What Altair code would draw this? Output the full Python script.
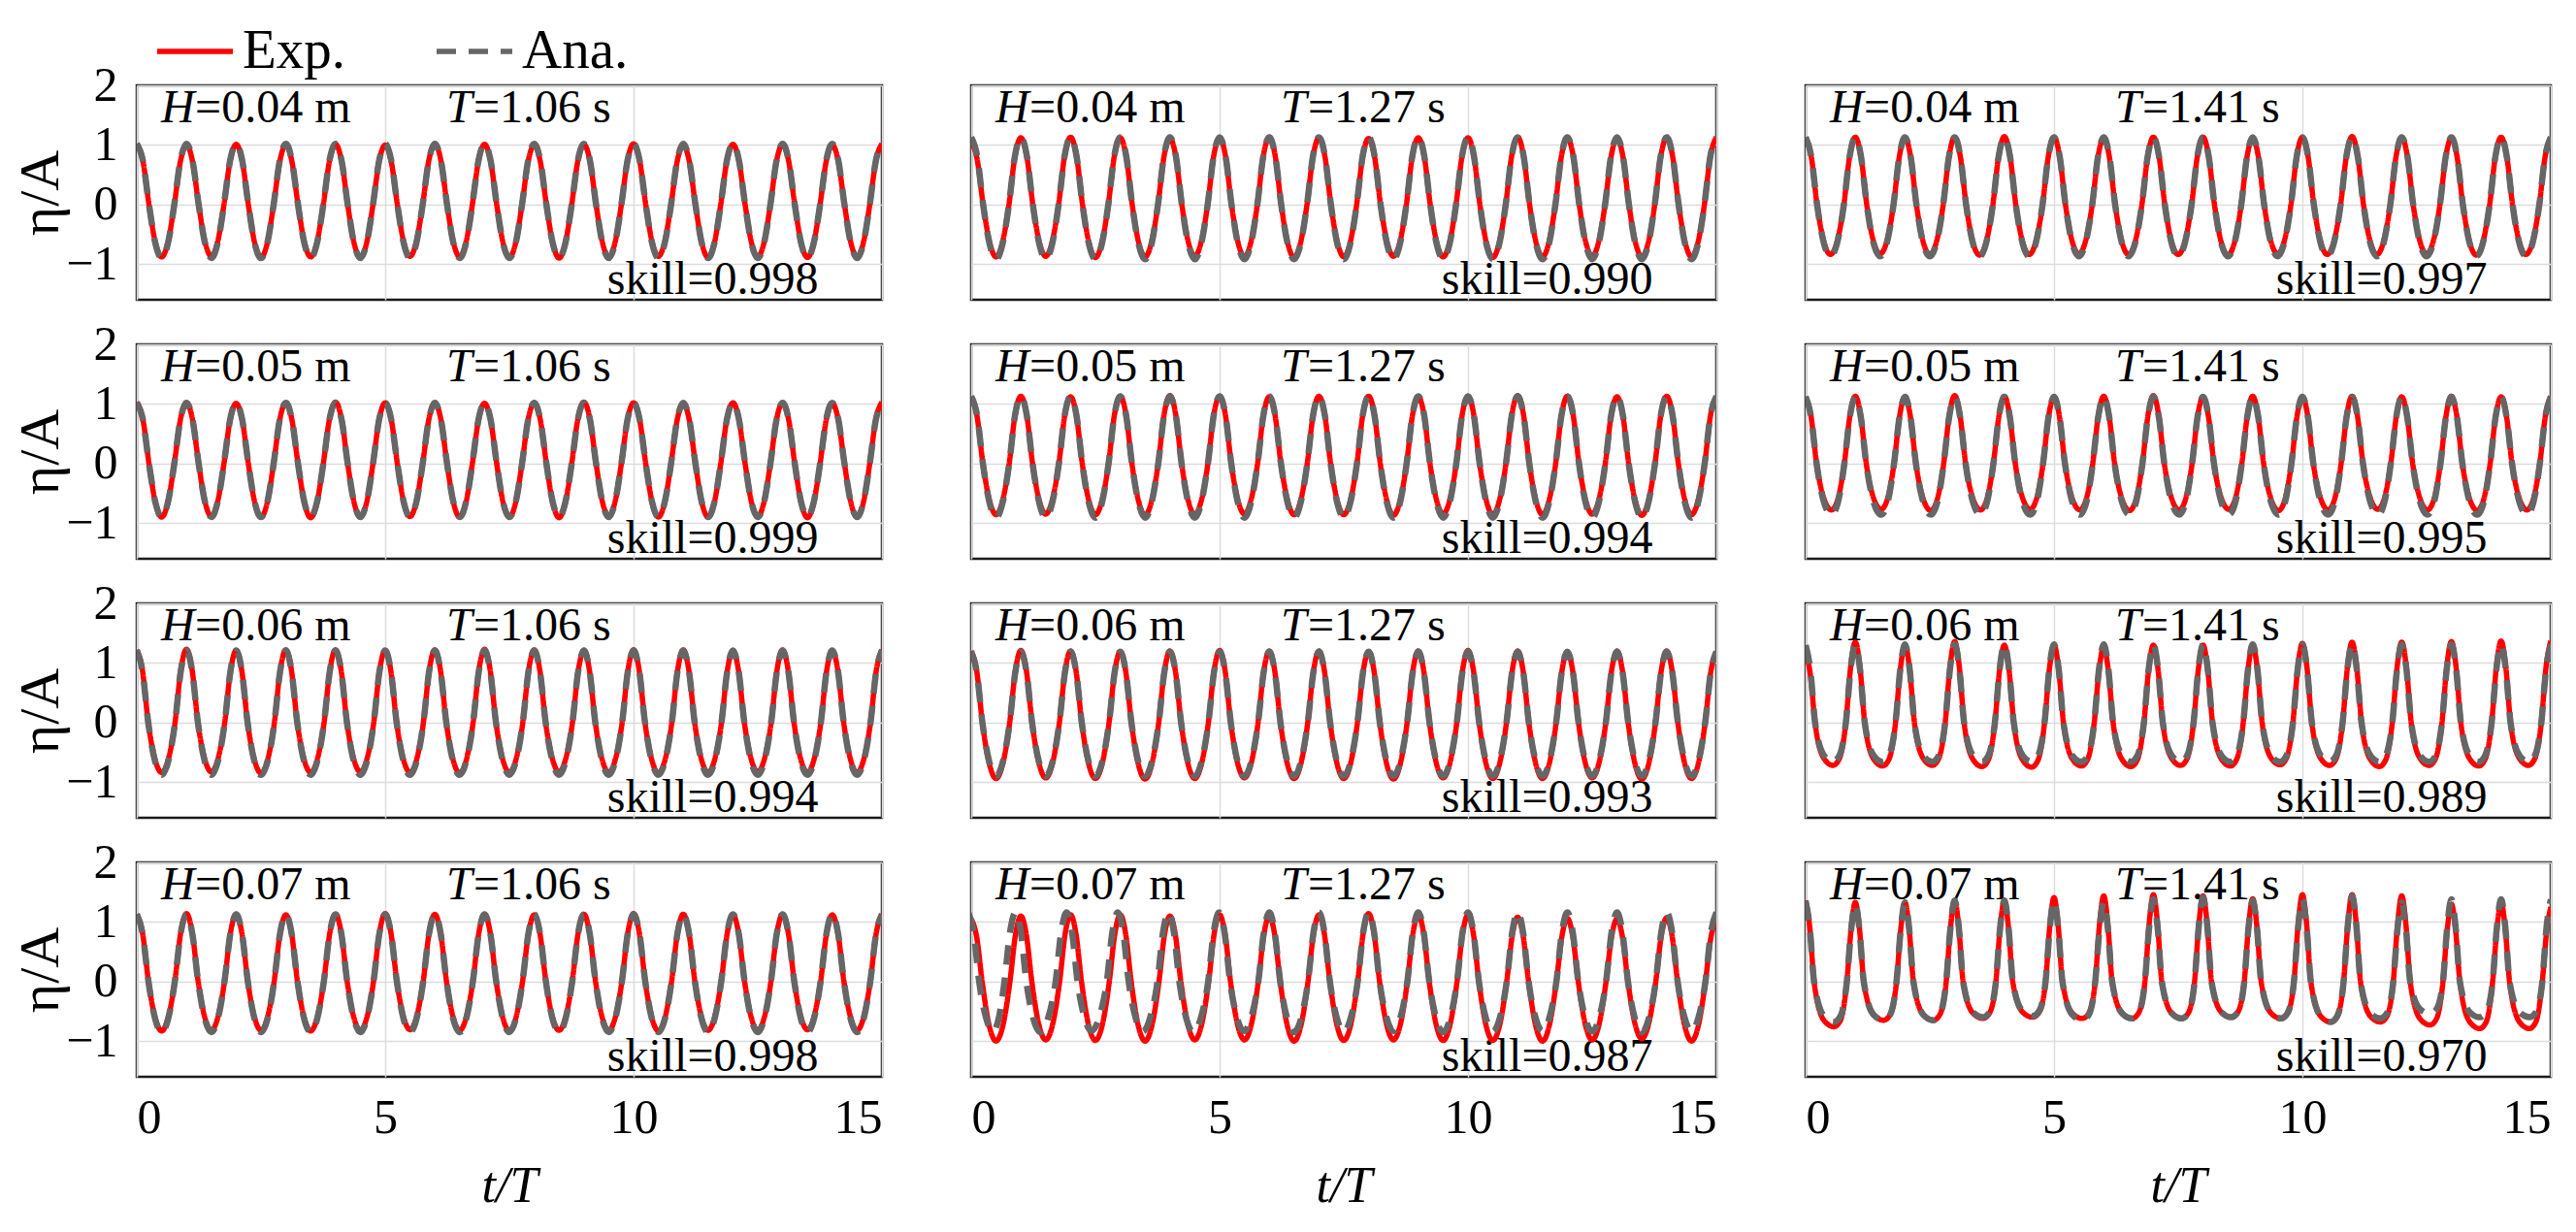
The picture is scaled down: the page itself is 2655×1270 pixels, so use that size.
import altair as alt
import pandas as pd

# ---------------- panel labels ----------------
H_LABELS = ["0.04", "0.05", "0.06", "0.07"]          # rows
T_LABELS = ["1.06", "1.27", "1.41"]                  # columns
SKILL = [
    ["0.998", "0.990", "0.997"],
    ["0.999", "0.994", "0.995"],
    ["0.994", "0.993", "0.989"],
    ["0.998", "0.987", "0.970"],
]
X_TICKS = [0, 5, 10, 15]
Y_TICKS = [-1, 0, 1, 2]

# ---------------- wave profile readings per panel [row][col] ----------------
# fraction of a period from crest to zero crossing
ZERO_OFFSET = [[0.245, 0.24, 0.23], [0.245, 0.235, 0.22], [0.23, 0.225, 0.19], [0.235, 0.22, 0.17]]
# fraction of a period from crest to trough
TROUGH_POS = [[0.5, 0.5, 0.5], [0.5, 0.5, 0.52], [0.5, 0.5, 0.55], [0.5, 0.5, 0.57]]
# relative level half way between crest and zero crossing
CREST_SIDE = [[0.72, 0.72, 0.71], [0.72, 0.72, 0.70], [0.71, 0.71, 0.68], [0.71, 0.71, 0.66]]
# relative level half way between zero crossing and trough
TROUGH_SIDE = [[0.72, 0.72, 0.74], [0.72, 0.72, 0.76], [0.73, 0.73, 0.84], [0.73, 0.73, 0.86]]

# ---------------- crest (t = 0..15) and trough (t = k + 1/2) levels ----------------
EXP_CREST_11 = [1.02, 1.00, 1.01, 1.00, 1.01, 1.00, 1.02, 1.01, 1.00, 1.01, 1.02, 1.00, 1.01, 1.01, 1.00, 1.02]
EXP_TROUGH_11 = [-0.88, -0.87, -0.89, -0.88, -0.89, -0.87, -0.88, -0.89, -0.90, -0.88, -0.87, -0.89, -0.88, -0.89, -0.88]
ANA_CREST_11 = [1.02, 1.02, 1.02, 1.02, 1.02, 1.02, 1.02, 1.02, 1.02, 1.02, 1.02, 1.02, 1.02, 1.02, 1.02, 1.02]
ANA_TROUGH_11 = [-0.90, -0.90, -0.90, -0.90, -0.90, -0.90, -0.90, -0.90, -0.90, -0.90, -0.90, -0.90, -0.90, -0.90, -0.90]

EXP_CREST_21 = [1.03, 1.02, 1.01, 1.02, 1.03, 1.02, 1.02, 1.01, 1.02, 1.03, 1.02, 1.01, 1.02, 1.02, 1.01, 1.03]
EXP_TROUGH_21 = [-0.90, -0.89, -0.90, -0.91, -0.90, -0.89, -0.90, -0.90, -0.91, -0.89, -0.90, -0.90, -0.89, -0.91, -0.90]
ANA_CREST_21 = [1.02, 1.02, 1.02, 1.02, 1.02, 1.02, 1.02, 1.02, 1.02, 1.02, 1.02, 1.02, 1.02, 1.02, 1.02, 1.02]
ANA_TROUGH_21 = [-0.90, -0.90, -0.90, -0.90, -0.90, -0.90, -0.90, -0.90, -0.90, -0.90, -0.90, -0.90, -0.90, -0.90, -0.90]

EXP_CREST_31 = [1.22, 1.23, 1.21, 1.22, 1.22, 1.21, 1.22, 1.23, 1.22, 1.21, 1.22, 1.22, 1.21, 1.22, 1.21, 1.22]
EXP_TROUGH_31 = [-0.84, -0.83, -0.85, -0.84, -0.83, -0.84, -0.85, -0.84, -0.83, -0.84, -0.85, -0.84, -0.83, -0.84, -0.84]
ANA_CREST_31 = [1.21, 1.21, 1.21, 1.21, 1.21, 1.21, 1.21, 1.21, 1.21, 1.21, 1.21, 1.21, 1.21, 1.21, 1.21, 1.21]
ANA_TROUGH_31 = [-0.88, -0.88, -0.88, -0.88, -0.88, -0.88, -0.88, -0.88, -0.88, -0.88, -0.88, -0.88, -0.88, -0.88, -0.88]

EXP_CREST_41 = [1.13, 1.14, 1.13, 1.12, 1.13, 1.14, 1.13, 1.13, 1.12, 1.13, 1.14, 1.13, 1.12, 1.13, 1.12, 1.13]
EXP_TROUGH_41 = [-0.83, -0.82, -0.82, -0.83, -0.82, -0.81, -0.82, -0.83, -0.82, -0.82, -0.83, -0.82, -0.82, -0.81, -0.82]
ANA_CREST_41 = [1.13, 1.13, 1.13, 1.13, 1.13, 1.13, 1.13, 1.13, 1.13, 1.13, 1.13, 1.13, 1.13, 1.13, 1.13, 1.13]
ANA_TROUGH_41 = [-0.85, -0.85, -0.85, -0.85, -0.85, -0.85, -0.85, -0.85, -0.85, -0.85, -0.85, -0.85, -0.85, -0.85, -0.85]

EXP_CREST_12 = [1.05, 1.12, 1.13, 1.12, 1.11, 1.12, 1.13, 1.12, 1.11, 1.12, 1.12, 1.13, 1.12, 1.11, 1.12, 1.13]
EXP_TROUGH_12 = [-0.88, -0.87, -0.89, -0.88, -0.87, -0.88, -0.89, -0.88, -0.87, -0.88, -0.89, -0.88, -0.87, -0.88, -0.88]
ANA_CREST_12 = [1.13, 1.13, 1.13, 1.13, 1.13, 1.13, 1.13, 1.13, 1.13, 1.13, 1.13, 1.13, 1.13, 1.13, 1.13, 1.13]
ANA_TROUGH_12 = [-0.92, -0.92, -0.92, -0.92, -0.92, -0.92, -0.92, -0.92, -0.92, -0.92, -0.92, -0.92, -0.92, -0.92, -0.92]

EXP_CREST_22 = [1.10, 1.13, 1.12, 1.13, 1.14, 1.13, 1.12, 1.13, 1.13, 1.12, 1.13, 1.14, 1.13, 1.12, 1.13, 1.12]
EXP_TROUGH_22 = [-0.86, -0.85, -0.86, -0.87, -0.86, -0.85, -0.86, -0.86, -0.87, -0.85, -0.86, -0.86, -0.85, -0.87, -0.86]
ANA_CREST_22 = [1.13, 1.13, 1.13, 1.13, 1.13, 1.13, 1.13, 1.13, 1.13, 1.13, 1.13, 1.13, 1.13, 1.13, 1.13, 1.13]
ANA_TROUGH_22 = [-0.91, -0.91, -0.91, -0.91, -0.91, -0.91, -0.91, -0.91, -0.91, -0.91, -0.91, -0.91, -0.91, -0.91, -0.91]

EXP_CREST_32 = [1.20, 1.21, 1.20, 1.19, 1.20, 1.21, 1.20, 1.20, 1.19, 1.20, 1.21, 1.20, 1.19, 1.20, 1.20, 1.19]
EXP_TROUGH_32 = [-0.94, -0.93, -0.94, -0.95, -0.94, -0.93, -0.94, -0.94, -0.95, -0.93, -0.94, -0.94, -0.93, -0.95, -0.94]
ANA_CREST_32 = [1.19, 1.19, 1.19, 1.19, 1.19, 1.19, 1.19, 1.19, 1.19, 1.19, 1.19, 1.19, 1.19, 1.19, 1.19, 1.19]
ANA_TROUGH_32 = [-0.90, -0.90, -0.90, -0.90, -0.90, -0.90, -0.90, -0.90, -0.90, -0.90, -0.90, -0.90, -0.90, -0.90, -0.90]

EXP_CREST_42 = [1.05, 1.10, 1.12, 1.12, 1.10, 1.12, 1.10, 1.12, 1.14, 1.12, 1.12, 1.08, 1.06, 1.05, 1.07, 1.04]
EXP_TROUGH_42 = [-1.00, -0.98, -0.99, -1.00, -0.98, -0.98, -1.00, -0.99, -0.98, -0.99, -0.99, -1.00, -0.98, -0.96, -1.00]
ANA_CREST_42 = [1.16, 1.16, 1.16, 1.16, 1.16, 1.16, 1.16, 1.16, 1.16, 1.16, 1.16, 1.16, 1.16, 1.16, 1.16, 1.16]
ANA_TROUGH_42 = [-0.84, -0.85, -0.83, -0.84, -0.85, -0.83, -0.85, -0.84, -0.83, -0.85, -0.84, -0.83, -0.84, -0.85, -0.83]
ANA_SHIFT_42 = [-0.06, -0.11, -0.08, -0.05, -0.03, -0.01, 0.0, 0.0, 0.0, 0.0, 0.0, 0.0, 0.0, 0.0, 0.0, 0.0]

EXP_CREST_13 = [1.12, 1.13, 1.12, 1.13, 1.14, 1.13, 1.12, 1.13, 1.13, 1.12, 1.13, 1.14, 1.13, 1.12, 1.13, 1.12]
EXP_TROUGH_13 = [-0.84, -0.83, -0.84, -0.85, -0.84, -0.83, -0.84, -0.84, -0.85, -0.83, -0.84, -0.84, -0.83, -0.85, -0.84]
ANA_CREST_13 = [1.13, 1.13, 1.13, 1.13, 1.13, 1.13, 1.13, 1.13, 1.13, 1.13, 1.13, 1.13, 1.13, 1.13, 1.13, 1.13]
ANA_TROUGH_13 = [-0.87, -0.87, -0.87, -0.87, -0.87, -0.87, -0.87, -0.87, -0.87, -0.87, -0.87, -0.87, -0.87, -0.87, -0.87]

EXP_CREST_23 = [1.12, 1.13, 1.12, 1.14, 1.13, 1.12, 1.13, 1.14, 1.12, 1.13, 1.12, 1.13, 1.12, 1.13, 1.12, 1.13]
EXP_TROUGH_23 = [-0.78, -0.77, -0.79, -0.78, -0.77, -0.78, -0.79, -0.78, -0.77, -0.79, -0.78, -0.77, -0.78, -0.79, -0.78]
ANA_CREST_23 = [1.12, 1.12, 1.12, 1.12, 1.12, 1.12, 1.12, 1.12, 1.12, 1.12, 1.12, 1.12, 1.12, 1.12, 1.12, 1.12]
ANA_TROUGH_23 = [-0.86, -0.86, -0.86, -0.86, -0.86, -0.86, -0.86, -0.86, -0.86, -0.86, -0.86, -0.86, -0.86, -0.86, -0.86]

EXP_CREST_33 = [1.18, 1.35, 1.30, 1.36, 1.30, 1.30, 1.27, 1.30, 1.30, 1.30, 1.33, 1.35, 1.35, 1.36, 1.37, 1.37]
EXP_TROUGH_33 = [-0.72, -0.73, -0.72, -0.74, -0.75, -0.73, -0.74, -0.72, -0.73, -0.71, -0.72, -0.74, -0.72, -0.73, -0.72]
ANA_CREST_33 = [1.30, 1.31, 1.31, 1.31, 1.31, 1.31, 1.31, 1.31, 1.31, 1.31, 1.31, 1.31, 1.31, 1.31, 1.31, 1.31]
ANA_TROUGH_33 = [-0.66, -0.66, -0.66, -0.66, -0.66, -0.66, -0.66, -0.66, -0.66, -0.66, -0.66, -0.66, -0.66, -0.66, -0.66]

EXP_CREST_43 = [1.36, 1.33, 1.33, 1.36, 1.36, 1.41, 1.44, 1.46, 1.44, 1.39, 1.46, 1.46, 1.44, 1.30, 1.33, 1.25]
EXP_TROUGH_43 = [-0.76, -0.65, -0.65, -0.62, -0.60, -0.62, -0.62, -0.62, -0.60, -0.62, -0.68, -0.68, -0.73, -0.79, -0.79]
ANA_CREST_43 = [1.35, 1.30, 1.33, 1.36, 1.36, 1.36, 1.33, 1.38, 1.41, 1.36, 1.38, 1.44, 1.33, 1.38, 1.38, 1.38]
ANA_TROUGH_43 = [-0.68, -0.65, -0.65, -0.60, -0.58, -0.65, -0.62, -0.62, -0.60, -0.62, -0.68, -0.62, -0.54, -0.60, -0.60]

SERIES = {
    (0, 0): (EXP_CREST_11, EXP_TROUGH_11, ANA_CREST_11, ANA_TROUGH_11, None),
    (1, 0): (EXP_CREST_21, EXP_TROUGH_21, ANA_CREST_21, ANA_TROUGH_21, None),
    (2, 0): (EXP_CREST_31, EXP_TROUGH_31, ANA_CREST_31, ANA_TROUGH_31, None),
    (3, 0): (EXP_CREST_41, EXP_TROUGH_41, ANA_CREST_41, ANA_TROUGH_41, None),
    (0, 1): (EXP_CREST_12, EXP_TROUGH_12, ANA_CREST_12, ANA_TROUGH_12, None),
    (1, 1): (EXP_CREST_22, EXP_TROUGH_22, ANA_CREST_22, ANA_TROUGH_22, None),
    (2, 1): (EXP_CREST_32, EXP_TROUGH_32, ANA_CREST_32, ANA_TROUGH_32, None),
    (3, 1): (EXP_CREST_42, EXP_TROUGH_42, ANA_CREST_42, ANA_TROUGH_42, ANA_SHIFT_42),
    (0, 2): (EXP_CREST_13, EXP_TROUGH_13, ANA_CREST_13, ANA_TROUGH_13, None),
    (1, 2): (EXP_CREST_23, EXP_TROUGH_23, ANA_CREST_23, ANA_TROUGH_23, None),
    (2, 2): (EXP_CREST_33, EXP_TROUGH_33, ANA_CREST_33, ANA_TROUGH_33, None),
    (3, 2): (EXP_CREST_43, EXP_TROUGH_43, ANA_CREST_43, ANA_TROUGH_43, None),
}

FONT = "Liberation Serif"
RED = "#ff0000"
GREY = "#666666"
PW, PH = 768, 221


def wave_points(crests, troughs, w, p, f1, f2, shifts=None):
    n = len(troughs)
    sh = shifts if shifts is not None else [0.0] * (n + 1)
    pts = []
    for k in range(n + 1):
        b = k + sh[k]
        pts.append((b, crests[k]))
        if k < n:
            nb = k + 1 + sh[k + 1]
            tr = troughs[k]
            pts.append((b + w / 2, crests[k] * f1))
            pts.append((b + w, 0.0))
            pts.append((b + (w + p) / 2, tr * f2))
            pts.append((b + p, tr))
            pts.append(((b + p + nb - w) / 2, tr * f2))
            pts.append((nb - w, 0.0))
            pts.append((nb - w / 2, crests[k + 1] * f1))
    return pts


COLOR_SCALE = alt.Scale(domain=["Exp.", "Ana."], range=[RED, GREY])
DASH_SCALE = alt.Scale(domain=["Exp.", "Ana."], range=[[1, 0], [20, 13]])
LEGEND = alt.Legend(
    orient="none", legendX=18, legendY=-77, direction="horizontal", title=None,
    symbolType="stroke", symbolSize=6084, symbolStrokeWidth=5.5,
    labelFont=FONT, labelFontSize=57, labelColor="black", labelOffset=7,
    columnPadding=82, padding=0, labelLimit=0,
)
ONE = pd.DataFrame({"k": [0]})


def text_layer(t, e, s, **kw):
    return alt.Chart(ONE).mark_text(
        text=s, font=FONT, fontSize=48, color="black", baseline="alphabetic", **kw
    ).encode(x=alt.datum(t), y=alt.datum(e))


def panel(r, c):
    ec, et, ac, at, shift = SERIES[(r, c)]
    w, p = ZERO_OFFSET[r][c], TROUGH_POS[r][c]
    f1, f2 = CREST_SIDE[r][c], TROUGH_SIDE[r][c]
    rows = [{"t": t, "eta": e, "series": "Exp."} for t, e in wave_points(ec, et, w, p, f1, f2)]
    rows += [{"t": t, "eta": e, "series": "Ana."} for t, e in wave_points(ac, at, w, p, f1, f2, shift)]
    df = pd.DataFrame(rows)

    bottom = r == 3
    left = c == 0
    xaxis = alt.Axis(
        values=X_TICKS, grid=True, labels=bottom, ticks=False, tickSize=0, domain=False,
        format="d", title="t/T" if bottom else None, labelFont=FONT, labelFontSize=50,
        labelColor="black", labelPadding=17, titleFont=FONT, titleFontSize=52,
        titleFontStyle="italic", titleFontWeight="normal", titleColor="black", titlePadding=20,
    )
    yaxis = alt.Axis(
        values=Y_TICKS, grid=True, labels=left, ticks=False, tickSize=0, domain=False,
        format="d", title="η/A" if left else None, labelFont=FONT, labelFontSize=50,
        labelColor="black", labelPadding=20, titleFont=FONT, titleFontSize=58,
        titleFontWeight="normal", titleColor="black", titlePadding=0, minExtent=70, maxExtent=70,
    )
    x = alt.X("t:Q", scale=alt.Scale(domain=[0, 15], nice=False, zero=False), axis=xaxis)
    y = alt.Y("eta:Q", scale=alt.Scale(domain=[-1.6, 2], nice=False, zero=False), axis=yaxis)

    base = alt.Chart(df)
    exp_line = base.transform_filter(alt.datum.series == "Exp.").mark_line(
        clip=True, interpolate="monotone", strokeWidth=5.5
    ).encode(
        x=x, y=y,
        color=alt.Color("series:N", scale=COLOR_SCALE, legend=LEGEND),
        strokeDash=alt.StrokeDash("series:N", scale=DASH_SCALE, legend=LEGEND),
    )
    ana_line = base.transform_filter(alt.datum.series == "Ana.").mark_line(
        clip=True, interpolate="monotone", strokeWidth=6.5
    ).encode(
        x=x, y=y,
        color=alt.Color("series:N", scale=COLOR_SCALE, legend=LEGEND),
        strokeDash=alt.StrokeDash("series:N", scale=DASH_SCALE, legend=LEGEND),
    )
    texts = [
        text_layer(0.49, 1.38, "H", align="left", fontStyle="italic"),
        text_layer(0.49, 1.38, "=" + H_LABELS[r] + " m", align="left", dx=35),
        text_layer(6.23, 1.38, "T", align="left", fontStyle="italic"),
        text_layer(6.23, 1.38, "=" + T_LABELS[c] + " s", align="left", dx=28),
        text_layer(13.72, -1.51, "skill=" + SKILL[r][c], align="right"),
    ]
    return alt.layer(*texts, exp_line, ana_line).properties(width=PW, height=PH)


panels = [panel(r, c) for r in range(4) for c in range(3)]
chart = (
    alt.concat(*panels, columns=3, spacing={"row": 46, "column": 92}, bounds="flush")
    .properties(padding={"left": 3, "top": 3, "right": 0, "bottom": 4})
    .configure_view(stroke="#1a1a1a", strokeWidth=2.5)
    .configure_axis(gridColor="#dcdcdc", gridWidth=1.5, gridOpacity=1)
)
chart.save("out.html", embed_options={"renderer": "svg", "actions": False})
